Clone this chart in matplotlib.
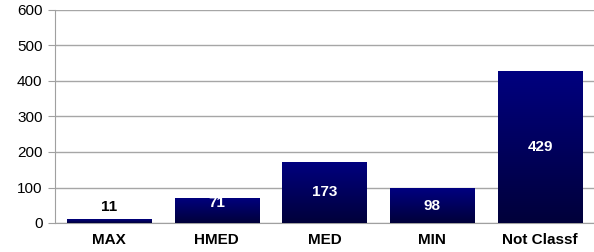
import numpy as np
import matplotlib
matplotlib.use("Agg")
import matplotlib.pyplot as plt
from matplotlib.colors import LinearSegmentedColormap

categories = ["MAX", "HMED", "MED", "MIN", "Not Classf"]
values = [11, 71, 173, 98, 429]
y_ticks = [0, 100, 200, 300, 400, 500, 600]

plt.rcParams['font.family'] = ['Liberation Sans', 'DejaVu Sans']

fig = plt.figure(figsize=(5.94, 2.52), dpi=100)
ax = fig.add_axes([55 / 594, 1 - 223 / 252, 1 - 55 / 594, 213 / 252])

x = np.arange(len(categories))
bars = ax.bar(x, values, width=0.78, color="none", edgecolor="none", zorder=3)

# vertical gradient inside each bar
cmap = LinearSegmentedColormap.from_list("navy", ["#00003a", "#000080"])
grad = np.linspace(0, 1, 256).reshape(-1, 1)
for b in bars:
    x0, y0 = b.get_x(), b.get_y()
    w, h = b.get_width(), b.get_height()
    im = ax.imshow(grad, cmap=cmap, origin="lower", aspect="auto",
                   extent=[x0, x0 + w, y0, y0 + h], zorder=3)
    im.set_clip_path(b)

ax.set_xlim(-0.5, len(categories) - 0.5)
ax.set_ylim(0, 600)
ax.set_yticks(y_ticks)
ax.set_xticks(x)
ax.set_xticklabels(categories, fontweight="bold", fontsize=11)
ax.tick_params(axis="y", labelsize=11, length=5, color="#a0a0a0", pad=4)
ax.tick_params(axis="x", length=0, pad=7)
ax.grid(axis="y", color="#a6a6a6", linewidth=1, zorder=0)
ax.set_axisbelow(True)
for s in ["top", "right"]:
    ax.spines[s].set_visible(False)
ax.spines["left"].set_color("#a0a0a0")
ax.spines["bottom"].set_color("#a0a0a0")

for i, v in enumerate(values):
    if v < 30:
        ax.text(i, v + 34, str(v), ha="center", va="center", color="black",
                fontweight="bold", fontsize=11, zorder=4)
    elif v < 80:
        ax.text(i, v - 15, str(v), ha="center", va="center", color="white",
                fontweight="bold", fontsize=11, zorder=4)
    else:
        ax.text(i, v / 2, str(v), ha="center", va="center", color="white",
                fontweight="bold", fontsize=11, zorder=4)

fig.savefig("out.png", dpi=100)
